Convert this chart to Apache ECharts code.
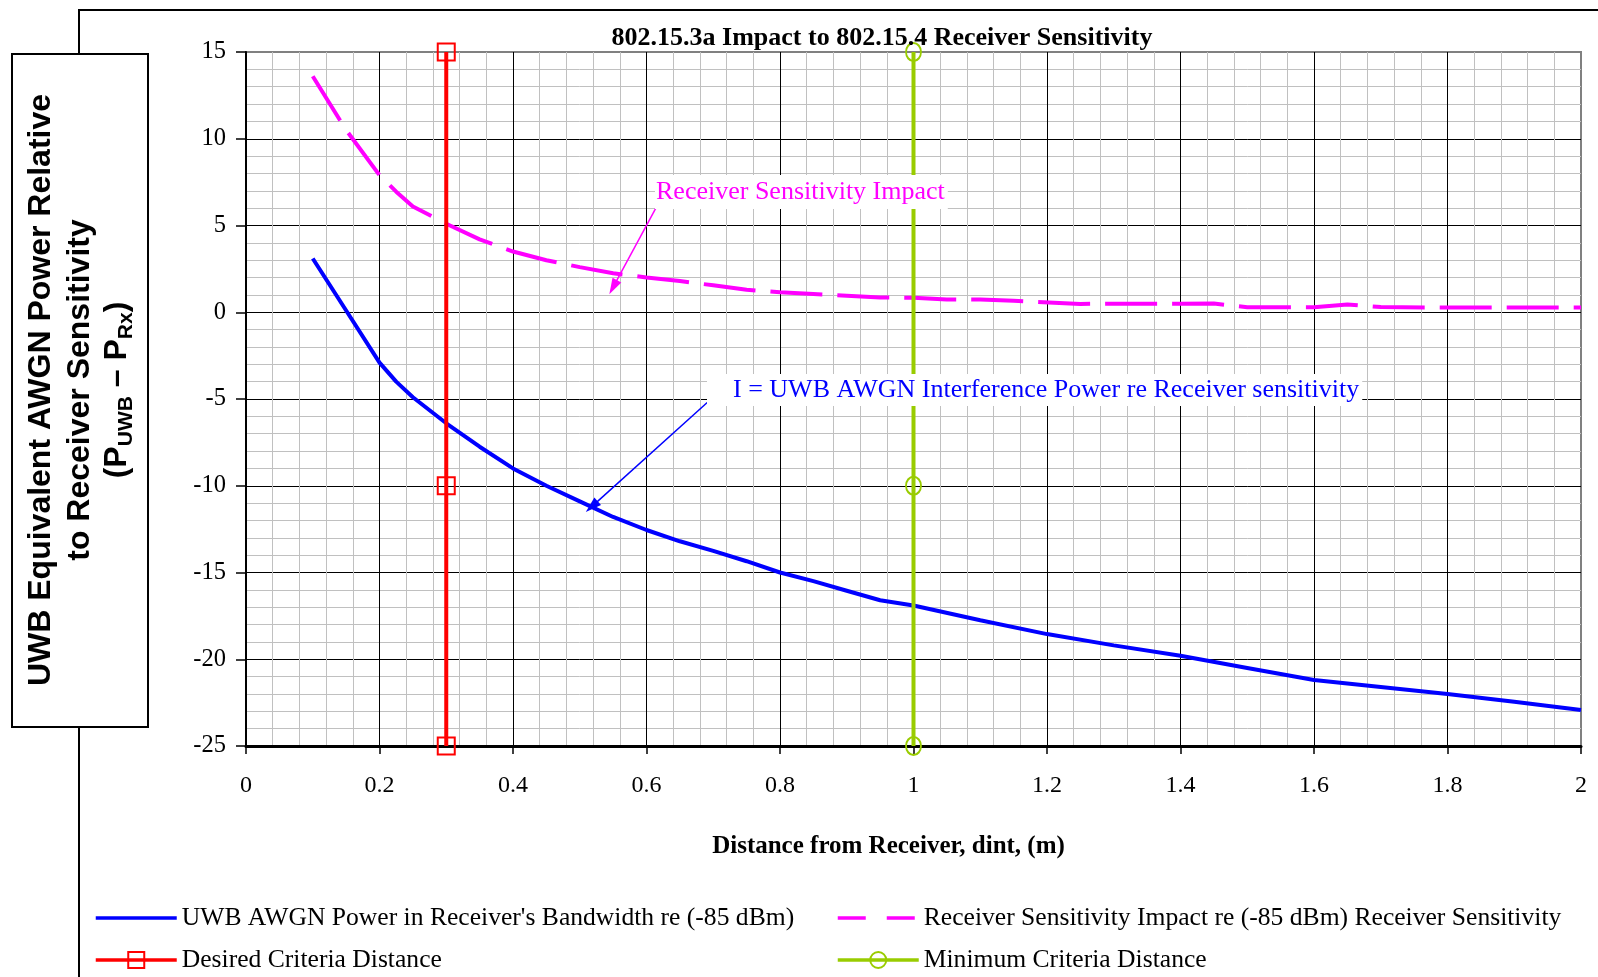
<!DOCTYPE html>
<html><head><meta charset="utf-8">
<script src="https://cdn.jsdelivr.net/npm/echarts@6/dist/echarts.min.js"></script>
<style>html,body{margin:0;padding:0;background:#fff}#c{width:1598px;height:977px}</style>
</head><body><div id="c"></div>
<script>
// ---- data ----
const xAwgn = [0.1,0.15,0.2,0.225,0.25,0.3,0.35,0.4,0.45,0.5,0.55,0.6,0.65,0.7,0.75,0.8,0.85,0.9,0.95,1.0,1.1,1.2,1.3,1.4,1.5,1.6,1.7,1.8,1.9,2.0];
const awgnPower = [3.1,0.1,-2.9,-4.0,-4.9,-6.4,-7.75,-9.0,-10.0,-10.9,-11.8,-12.55,-13.2,-13.75,-14.35,-15.0,-15.5,-16.05,-16.6,-16.9,-17.75,-18.55,-19.2,-19.8,-20.5,-21.2,-21.6,-22.0,-22.45,-22.93];
const xImpact = [0.1,0.15,0.2,0.225,0.25,0.3,0.35,0.4,0.45,0.5,0.55,0.6,0.65,0.7,0.75,0.8,0.85,0.9,0.95,1.0,1.05,1.1,1.15,1.25,1.3,1.4,1.45,1.5,1.6,1.65,1.7,1.8,1.9,2.0];
const sensImpact = [13.6,10.5,7.9,6.95,6.1,5.1,4.2,3.5,3.0,2.6,2.25,2.0,1.8,1.55,1.3,1.15,1.05,0.95,0.85,0.84,0.74,0.73,0.66,0.48,0.49,0.49,0.5,0.29,0.29,0.45,0.3,0.27,0.27,0.27];
const xDesired = [0.3,0.3,0.3];
const xMinimum = [1,1,1];
const yCriteria = [15,-10,-25];
const impactArrow = [[0.614,6.0],[0.55,1.45]];
const awgnArrow = [[0.691,-5.2],[0.518,-11.2]];
const names = [
  "UWB AWGN Power in Receiver's Bandwidth re (-85 dBm)",
  "Receiver Sensitivity Impact re (-85 dBm) Receiver Sensitivity",
  "Desired Criteria Distance",
  "Minimum Criteria Distance"
];
const titleText = "802.15.3a Impact to 802.15.4 Receiver Sensitivity";
const xName = "Distance from Receiver, dint, (m)";
const yName1 = "UWB Equivalent AWGN Power Relative";
const yName2 = "to Receiver Sensitivity";
const impactLabel = "Receiver Sensitivity Impact";
const awgnLabel = "I = UWB AWGN Interference Power re Receiver sensitivity";

// ---- chart ----
const serif = "'Liberation Serif','Times New Roman',serif";
const sans = "'Liberation Sans',Arial,sans-serif";
const chart = echarts.init(document.getElementById('c'));
const pairs = (xs, ys) => xs.map((x, i) => [x, ys[i]]);

const axisCommon = {
  axisLine: {show: true, onZero: false, lineStyle: {color: '#000', width: 2}},
  axisTick: {show: true, lineStyle: {color: '#000', width: 1.5}},
  splitLine: {show: true, showMaxLine: false, lineStyle: {color: '#000', width: 1}},
  minorTick: {show: false, splitNumber: 5},
  minorSplitLine: {show: true, lineStyle: {color: '#c0c0c0', width: 1}}
};
const legendCommon = {top: 905, orient: 'vertical', padding: 0, itemWidth: 81, itemHeight: 20, itemGap: 16, selectedMode: false,
  lineStyle: {width: 3.5},
  textStyle: {fontFamily: serif, fontSize: 25.6, color: '#000', lineHeight: 26}};

chart.setOption({
  animation: false,
  grid: {left: 246, right: 17, top: 52, bottom: 231, show: true, borderColor: '#808080', borderWidth: 2, backgroundColor: 'transparent'},
  xAxis: Object.assign({}, axisCommon, {
    type: 'value', min: 0, max: 2, interval: 0.2,
    name: xName, nameLocation: 'middle', nameGap: 88,
    nameTextStyle: {fontFamily: serif, fontWeight: 'bold', fontSize: 25, color: '#000', padding: [0, 50, 0, 0]},
    axisLine: {show: true, onZero: false, lineStyle: {color: '#000', width: 3}},
    axisTick: {show: true, length: 8, lineStyle: {color: '#000', width: 1.5}},
    axisLabel: {margin: 28, fontFamily: serif, fontSize: 24, color: '#000'}
  }),
  yAxis: Object.assign({}, axisCommon, {
    type: 'value', min: -25, max: 15, interval: 5,
    axisTick: {show: true, length: 10, lineStyle: {color: '#000', width: 1.5}},
    axisLabel: {margin: 20, fontFamily: serif, fontSize: 24.5, color: '#000'}
  }),
  legend: [
    Object.assign({}, legendCommon, {left: 94,
     data: [{name: names[0], itemStyle: {opacity: 0}}, names[2]]}),
    Object.assign({}, legendCommon, {left: 836,
     data: [{name: names[1], itemStyle: {opacity: 0}, lineStyle: {type: [28, 21]}}, names[3]]})
  ],
  series: [
    {type: 'line', name: names[0], data: pairs(xAwgn, awgnPower), symbol: 'none', z: 3,
     lineStyle: {color: '#0000ff', width: 4}, itemStyle: {color: '#0000ff'},
     markLine: {silent: true, symbol: ['none', 'triangle'], symbolSize: [10, 16], label: {show: false},
       lineStyle: {color: '#0000ff', width: 1.5, type: 'solid'}, emphasis: {disabled: true},
       data: [[{coord: awgnArrow[0]}, {coord: awgnArrow[1]}]]}},
    {type: 'line', name: names[1], data: pairs(xImpact, sensImpact), symbol: 'none', z: 4,
     lineStyle: {color: '#ff00ff', width: 4, type: [52, 15]}, itemStyle: {color: '#ff00ff'},
     markLine: {silent: true, symbol: ['none', 'triangle'], symbolSize: [10, 16], label: {show: false},
       lineStyle: {color: '#ff00ff', width: 1.5, type: 'solid'}, emphasis: {disabled: true},
       data: [[{coord: impactArrow[0]}, {coord: impactArrow[1]}]]}},
    {type: 'line', name: names[2], data: pairs(xDesired, yCriteria), symbol: 'rect', symbolSize: 17, z: 5,
     lineStyle: {color: '#ff0000', width: 4}, itemStyle: {color: 'rgba(255,255,255,0)', borderColor: '#ff0000', borderWidth: 2}},
    {type: 'line', name: names[3], data: pairs(xMinimum, yCriteria), symbol: 'circle', symbolSize: [15, 18], z: 6,
     lineStyle: {color: '#99cc00', width: 4}, itemStyle: {color: 'rgba(255,255,255,0)', borderColor: '#99cc00', borderWidth: 2}}
  ],
  graphic: [
    {type: 'rect', z: -10, shape: {x: 79, y: 10, width: 1700, height: 1200}, style: {fill: 'none', stroke: '#000', lineWidth: 2}},
    {type: 'rect', z: 10, shape: {x: 12, y: 54, width: 136, height: 673}, style: {fill: '#fff', stroke: '#000', lineWidth: 2}},
    {type: 'text', z: 11, x: 41, y: 390, rotation: Math.PI / 2,
     style: {text: yName1, font: "bold 32px " + sans, fill: '#000', align: 'center', verticalAlign: 'middle'}},
    {type: 'text', z: 11, x: 80, y: 390, rotation: Math.PI / 2,
     style: {text: yName2, font: "bold 32px " + sans, fill: '#000', align: 'center', verticalAlign: 'middle'}},
    {type: 'text', z: 11, x: 119, y: 390, rotation: Math.PI / 2,
     style: {text: '{a|(P}{s|UWB}{a| – P}{s|Rx}{a|)}', align: 'center', verticalAlign: 'middle',
       rich: {a: {fontFamily: sans, fontWeight: 'bold', fontSize: 32, lineHeight: 36, verticalAlign: 'top', fill: '#000'},
              s: {fontFamily: sans, fontWeight: 'bold', fontSize: 21, lineHeight: 21, verticalAlign: 'bottom', fill: '#000'}}}},
    {type: 'text', z: 11, x: 882, y: 38,
     style: {text: titleText, font: "bold 26px " + serif, fill: '#000', align: 'center', verticalAlign: 'middle'}},
    {type: 'text', z: 100, x: 655, y: 192,
     style: {text: impactLabel, font: "26px " + serif, fill: '#ff00ff', align: 'left', verticalAlign: 'middle',
       backgroundColor: '#fff', padding: [4, 3, 4, 1]}},
    {type: 'text', z: 100, x: 707, y: 390,
     style: {text: awgnLabel, font: "26px " + serif, fill: '#0000ff', align: 'left', verticalAlign: 'middle',
       backgroundColor: '#fff', padding: [3, 3, 3, 26]}}
  ]
});
</script>
</body></html>
